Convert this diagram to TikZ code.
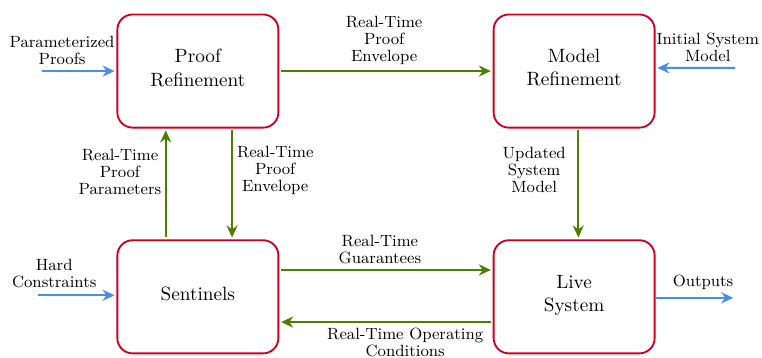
\documentclass[tikz,border=0pt]{standalone}
\usepackage{amsmath}
\usepackage{tikz}
\usetikzlibrary{arrows.meta}

\definecolor{boxred}{RGB}{204,0,34}
\definecolor{flowgreen}{RGB}{77,128,0}
\definecolor{feedblue}{RGB}{74,144,226}

\begin{document}
\begin{tikzpicture}[
    every node/.style={anchor=center},
    block/.style={draw=boxred, line width=1pt, rounded corners=0.29cm, minimum width=3.06cm, minimum height=2.15cm, align=center, text depth=0.13cm, font=\fontsize{10.4}{12.6}\selectfont},
    flowlabel/.style={align=center, font=\fontsize{8.8}{9.2}\selectfont},
    flow/.style={-{Stealth[length=6.5pt, width=6pt]}, flowgreen, line width=1pt, shorten >=1pt, shorten <=1pt},
    feed/.style={-{Stealth[length=6.5pt, width=6pt]}, feedblue, line width=1pt, shorten >=1pt}
    ]

\useasboundingbox (0,0) rectangle (14.48,-6.80);

% Blocks
\node[block] (proof) at (3.76,-1.35) {Proof\\Refinement};
\node[block] (model) at (10.91,-1.35) {Model\\Refinement};
\node[block] (sentinels) at (3.76,-5.64) {Sentinels};
\node[block] (live) at (10.91,-5.64) {Live\\System};

% Outside inputs and outputs
\coordinate (params in) at (0.80,-1.35);
\coordinate (initial in) at (13.97,-1.29);
\coordinate (hard in) at (0.72,-5.61);
\coordinate (outputs end) at (13.97,-5.66);

\draw[feed] (params in) to (proof.west);
\node[flowlabel] (params) at (1.18,-0.96) {Parameterized\\Proofs};

\draw[feed] (initial in) to ([yshift=0.06cm]model.east);
\node[flowlabel] (initial) at (13.45,-0.90) {Initial System\\Model};

\draw[feed] (hard in) to ([yshift=0.03cm]sentinels.west);
\node[flowlabel] (hard) at (1.03,-5.20) {Hard\\Constraints};

\draw[feed] ([yshift=-0.02cm]live.east) to (outputs end);
\node[flowlabel] (outputs) at (13.36,-5.36) {Outputs};

% Arrows between blocks
\draw[flow] (proof.east) to (model.west);
\node[flowlabel] (envelope top) at (7.30,-0.76) {Real-Time\\Proof\\Envelope};

\draw[flow] ([xshift=-0.61cm]sentinels.north) to ([xshift=-0.61cm]proof.south);
\node[flowlabel] (parameters) at (2.28,-3.27) {Real-Time\\Proof\\Parameters};

\draw[flow] ([xshift=0.65cm]proof.south) to ([xshift=0.65cm]sentinels.north);
\node[flowlabel] (envelope side) at (5.23,-3.23) {Real-Time\\Proof\\Envelope};

\draw[flow] ([xshift=0.08cm]model.south) to ([xshift=0.08cm]live.north);
\node[flowlabel] (updated) at (10.15,-3.23) {Updated\\System\\Model};

\draw[flow] ([yshift=0.51cm]sentinels.east) to ([yshift=0.51cm]live.west);
\node[flowlabel] (guarantees) at (7.22,-4.75) {Real-Time\\Guarantees};

\draw[flow] ([yshift=-0.48cm]live.west) to ([yshift=-0.48cm]sentinels.east);
\node[flowlabel] (conditions) at (7.70,-6.50) {Real-Time Operating\\Conditions};

\end{tikzpicture}
\end{document}
